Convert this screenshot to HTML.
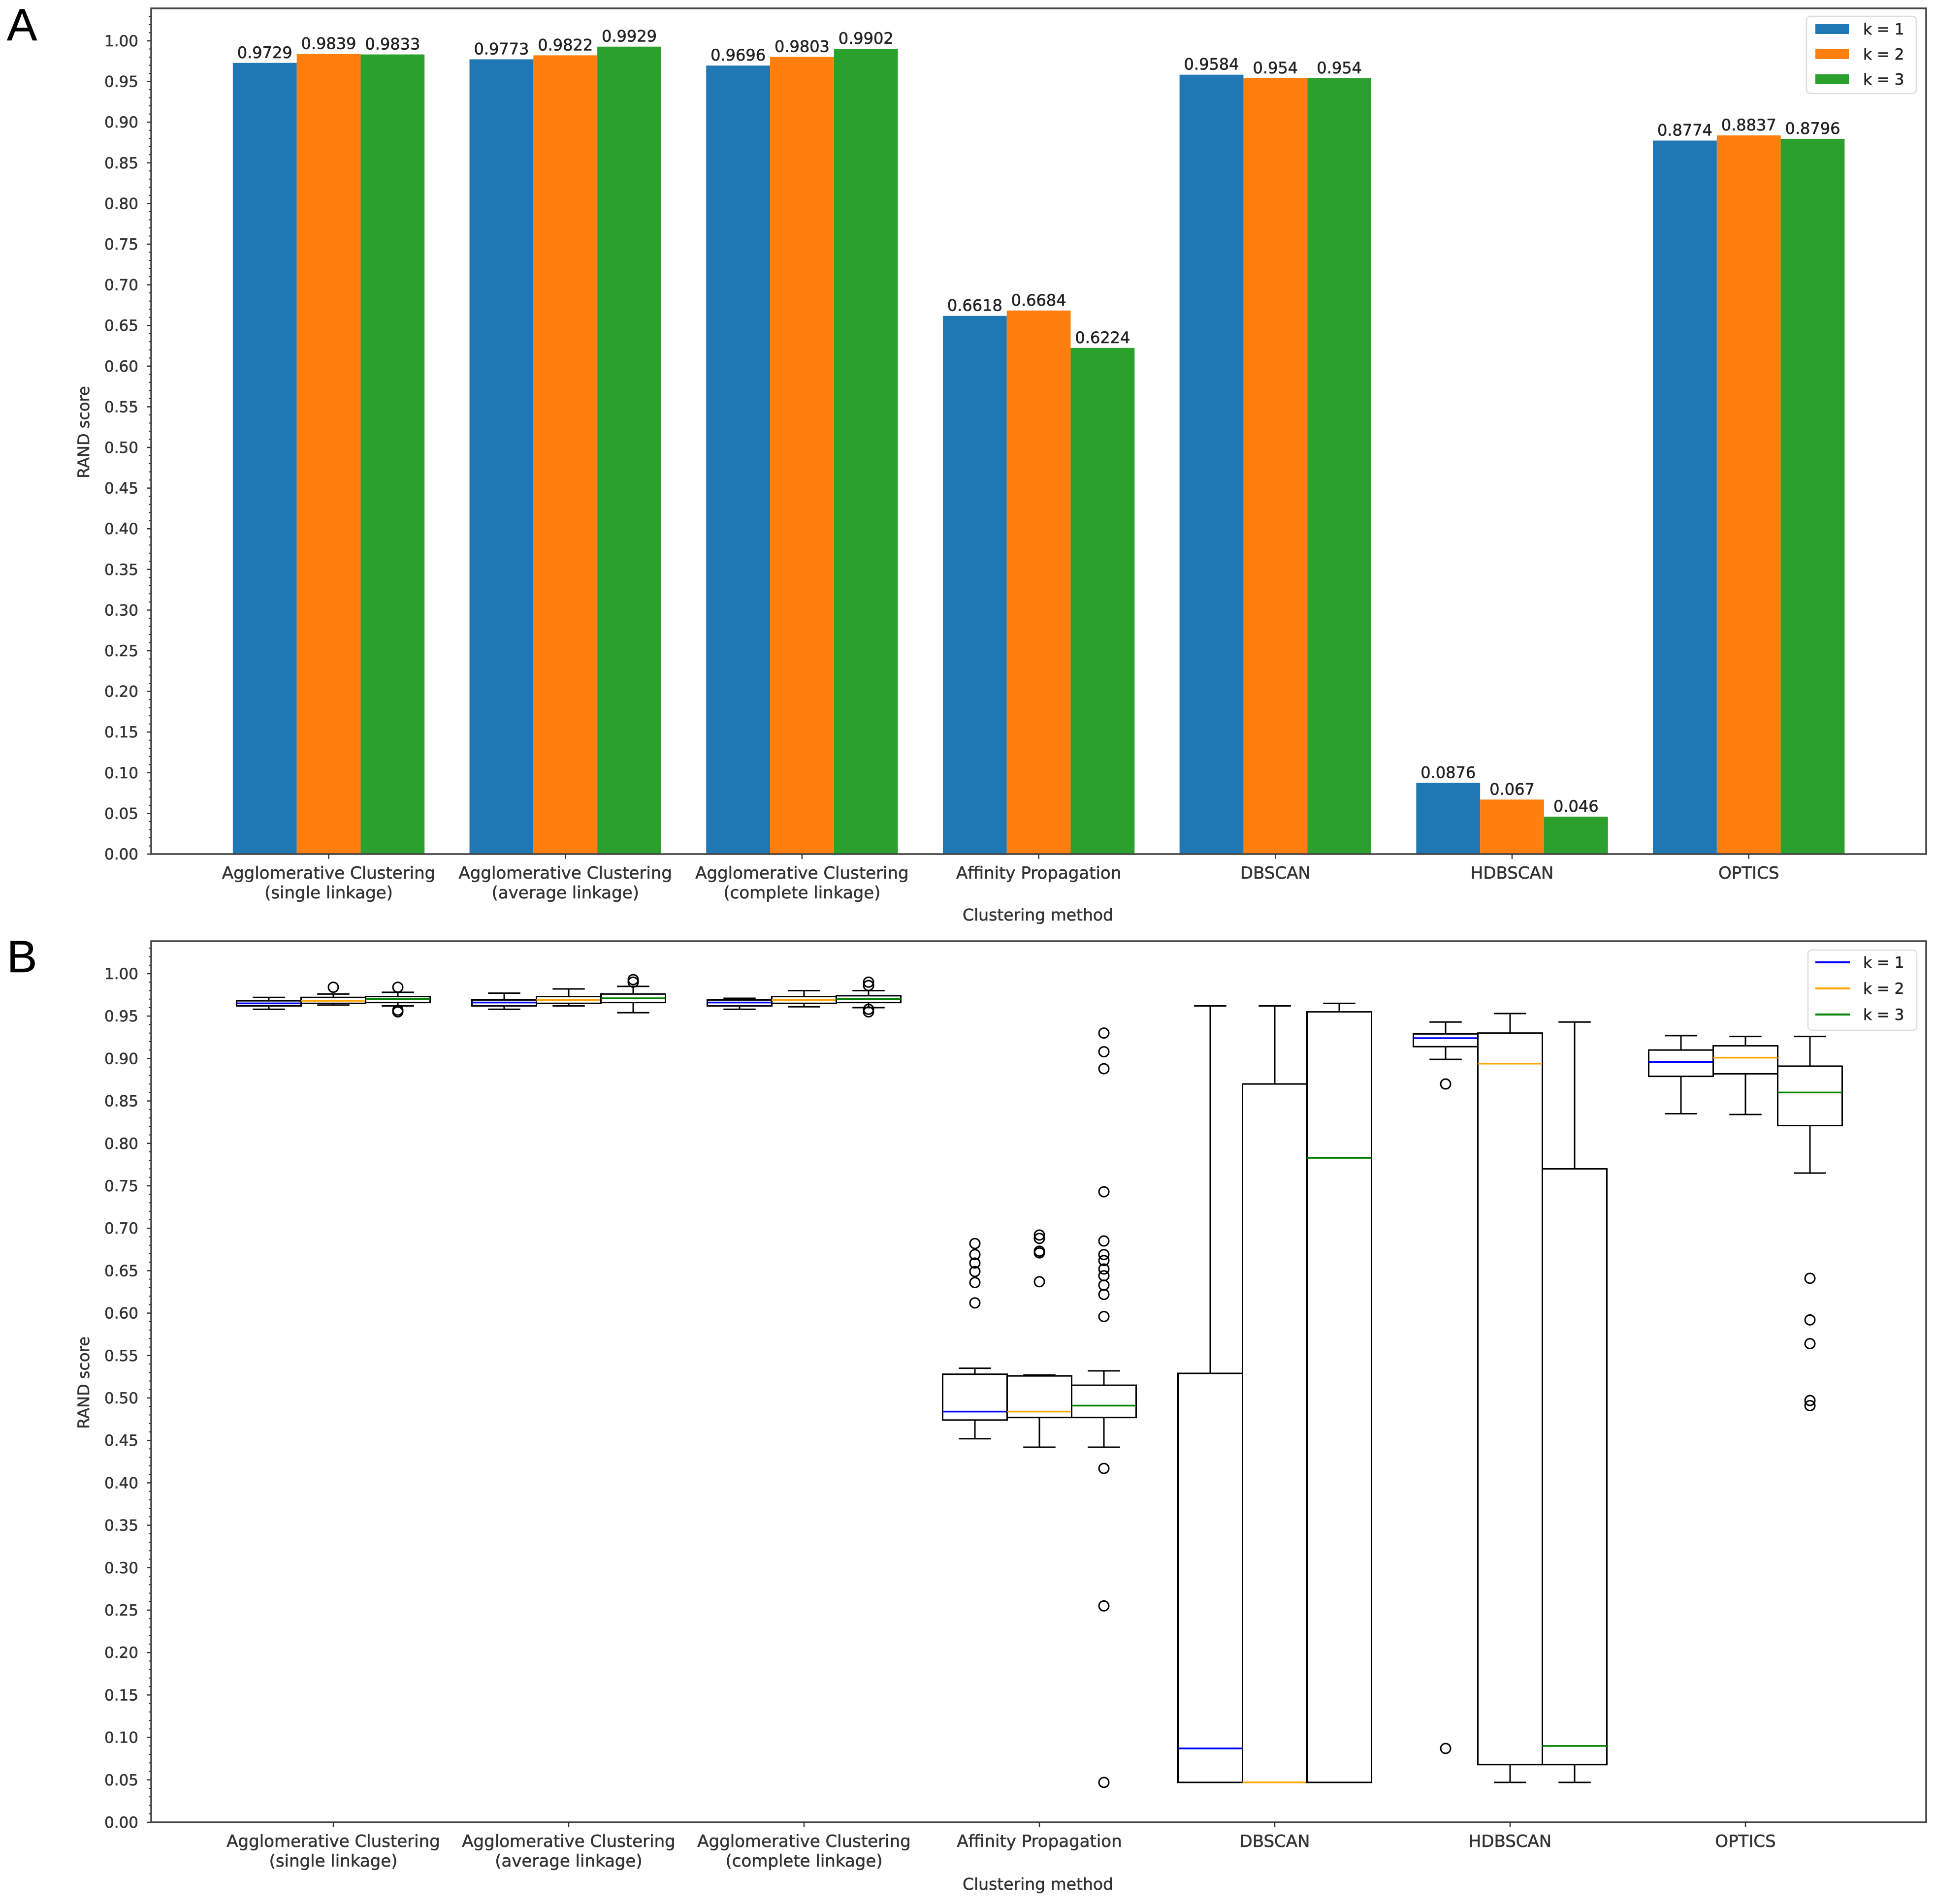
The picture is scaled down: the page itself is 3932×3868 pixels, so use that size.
<!DOCTYPE html>
<html><head><meta charset="utf-8"><style>
html,body{margin:0;padding:0;background:#fff;}
svg{display:block;font-family:"DejaVu Sans","Liberation Sans",sans-serif;}
svg text{stroke:currentColor;}
</style></head>
<body>
<svg id="fig" width="3932" height="3868" viewBox="0 0 3932 3868" xmlns="http://www.w3.org/2000/svg"></svg>
<script>
const categories = ["Agglomerative Clustering|(single linkage)","Agglomerative Clustering|(average linkage)","Agglomerative Clustering|(complete linkage)","Affinity Propagation","DBSCAN","HDBSCAN","OPTICS"];
const barK1 = [0.9729,0.9773,0.9696,0.6618,0.9584,0.0876,0.8774];
const barK2 = [0.9839,0.9822,0.9803,0.6684,0.954,0.067,0.8837];
const barK3 = [0.9833,0.9929,0.9902,0.6224,0.954,0.046,0.8796];
const barLabelsK1 = ["0.9729","0.9773","0.9696","0.6618","0.9584","0.0876","0.8774"];
const barLabelsK2 = ["0.9839","0.9822","0.9803","0.6684","0.954","0.067","0.8837"];
const barLabelsK3 = ["0.9833","0.9929","0.9902","0.6224","0.954","0.046","0.8796"];
const tickLabels = ["0.00","0.05","0.10","0.15","0.20","0.25","0.30","0.35","0.40","0.45","0.50","0.55","0.60","0.65","0.70","0.75","0.80","0.85","0.90","0.95","1.00"];
// box stats: [whiskerLo, q1, median, q3, whiskerHi]
const boxK1 = [[0.958,0.962,0.965,0.968,0.972],[0.958,0.962,0.966,0.969,0.977],[0.958,0.962,0.966,0.969,0.971],[0.452,0.474,0.484,0.528,0.535],[0.047,0.047,0.087,0.529,0.962],[0.899,0.914,0.924,0.929,0.943],[0.835,0.879,0.896,0.910,0.927]];
const boxK2 = [[0.963,0.965,0.968,0.972,0.976],[0.962,0.965,0.969,0.973,0.982],[0.961,0.965,0.969,0.973,0.980],[0.442,0.477,0.484,0.526,0.527],[0.047,0.047,0.047,0.870,0.962],[0.047,0.068,0.894,0.930,0.953],[0.834,0.882,0.901,0.915,0.926]];
const boxK3 = [[0.962,0.966,0.970,0.973,0.978],[0.954,0.966,0.971,0.976,0.985],[0.960,0.966,0.970,0.974,0.980],[0.442,0.477,0.491,0.515,0.532],[0.047,0.047,0.783,0.955,0.965],[0.047,0.068,0.090,0.770,0.943],[0.765,0.821,0.860,0.891,0.926]];
const outK1 = [[],[],[],[0.682,0.669,0.659,0.649,0.636,0.612],[],[0.870,0.087],[]];
const outK2 = [[0.984],[],[],[0.692,0.688,0.673,0.671,0.637],[],[],[]];
const outK3 = [[0.955,0.957,0.984],[0.990,0.993],[0.955,0.958,0.986,0.990],[0.930,0.908,0.888,0.743,0.685,0.669,0.662,0.652,0.644,0.633,0.622,0.596,0.417,0.255,0.047],[],[],[0.641,0.592,0.564,0.497,0.491]];

const NS="http://www.w3.org/2000/svg";
const svg=document.getElementById('fig');
function el(tag,attrs,parent,text){const e=document.createElementNS(NS,tag);for(const k in attrs)e.setAttribute(k,attrs[k]);if(text!==undefined){e.textContent=text;if(!attrs['stroke-width'])e.setAttribute('stroke-width','0.6');}(parent||svg).appendChild(e);return e;}

const L=307,R=3912;
const yA=v=>1735-v*1652;
const yB=v=>3702-v*1724;
const xA=i=>307+(i+0.75)*480.7;
const xB=i=>677+i*478;
const barColors=["#1f77b4","#ff7f0e","#2ca02c"];
const medColors=["#0000ff","#ffa500","#008000"];

function axes(name,top,bottom,yf,xf,titleY,labelY){
  const g=el('g',{});
  
  
  for(let m=0;m<=103;m++){
    const v=m/100;const y=yf(v);
    if(y<top)continue;
    const major=(m%5===0);
    el('line',{x1:L,x2:L-(major?9:5),y1:y,y2:y,stroke:'#333','stroke-width':major?2.5:2},g);
  }
  tickLabels.forEach((t,i)=>{
    const tx=el('text',{x:281,y:yf(i*0.05)+11,'text-anchor':'end','font-size':31,fill:'#333',color:'#333'},g,t);
    
    
  });
  categories.forEach((c,i)=>{
    const x=xf(i);
    el('line',{x1:x,x2:x,y1:bottom,y2:bottom+10,stroke:'#333','stroke-width':2.5},g);
    const parts=c.split('|');
    parts.forEach((p,j)=>{
      const tx=el('text',{x:x,y:bottom+50+j*40,'text-anchor':'middle','font-size':34,fill:'#333',color:'#333'},g,p);
      
      
    });
  });
  const yt=el('text',{x:0,y:0,'text-anchor':'middle','font-size':32,fill:'#333',color:'#333',transform:`translate(181,${titleY}) rotate(-90)`},g,'RAND score');
  
  
  const xt=el('text',{x:2108,y:labelY,'text-anchor':'middle','font-size':33,fill:'#333',color:'#333'},g,'Clustering method');
  
  
}

/* Panel A */
const pa=el('text',{x:14,y:82,'font-size':92,fill:'#000','font-family':'Liberation Sans, sans-serif','stroke-width':0},svg,'A');


const series=[barK1,barK2,barK3];
const seriesLabels=[barLabelsK1,barLabelsK2,barLabelsK3];
const bw=0.27*480.7;
series.forEach((s,k)=>{
  s.forEach((v,i)=>{
    const cx=xA(i)+(k-1)*bw;
    const r=el('rect',{x:cx-bw/2,y:yA(v),width:bw,height:yA(0)-yA(v),fill:barColors[k]});
    
    
    const t=el('text',{x:cx,y:yA(v)-10,'text-anchor':'middle','font-size':32,fill:'#222',color:'#222'},svg,seriesLabels[k][i]);
    
    
  });
});
const fa=el('rect',{x:L,y:17,width:R-L,height:1735-17,fill:'none',stroke:'#444','stroke-width':3.5});


axes('panel-a',17,1735,yA,xA,878,1870);

/* legend A */
const lgA=el('g',{});


el('rect',{x:3669,y:33,width:223,height:157,rx:8,fill:'#fff',stroke:'#ddd','stroke-width':2.5},lgA);
["k = 1","k = 2","k = 3"].forEach((t,k)=>{
  const yy=59+k*51;
  const e=el('g',{},lgA);
  
  
  el('rect',{x:3687,y:yy-10,width:68,height:20,fill:barColors[k]},e);
  el('text',{x:3784,y:yy+11,'font-size':31,fill:'#222',color:'#222'},e,t);
});

/* Panel B */
const pb=el('text',{x:14,y:1975,'font-size':92,fill:'#000','font-family':'Liberation Sans, sans-serif','stroke-width':0},svg,'B');


const boxes=[boxK1,boxK2,boxK3];
const outs=[outK1,outK2,outK3];
const boxW=131;
boxes.forEach((b,k)=>{
  b.forEach((st,i)=>{
    const cx=xB(i)+(k-1)*boxW;
    const g=el('g',{});
    
    
    const [wl,q1,md,q3,wh]=st;
    el('line',{x1:cx,x2:cx,y1:yB(q3),y2:yB(wh),stroke:'#000','stroke-width':3},g);
    el('line',{x1:cx,x2:cx,y1:yB(q1),y2:yB(wl),stroke:'#000','stroke-width':3},g);
    el('line',{x1:cx-boxW/4,x2:cx+boxW/4,y1:yB(wh),y2:yB(wh),stroke:'#000','stroke-width':3},g);
    el('line',{x1:cx-boxW/4,x2:cx+boxW/4,y1:yB(wl),y2:yB(wl),stroke:'#000','stroke-width':3},g);
    el('rect',{x:cx-boxW/2,y:yB(q3),width:boxW,height:Math.max(yB(q1)-yB(q3),1),fill:'none',stroke:'#000','stroke-width':3},g);
    el('line',{x1:cx-boxW/2,x2:cx+boxW/2,y1:yB(md),y2:yB(md),stroke:medColors[k],'stroke-width':3.5},g);
    outs[k][i].forEach(o=>{
      const c=el('circle',{cx:cx,cy:yB(o),r:10,fill:'none',stroke:'#000','stroke-width':3},g);
      
      
    });
  });
});
const fb=el('rect',{x:L,y:1912,width:R-L,height:3702-1912,fill:'none',stroke:'#444','stroke-width':3.5});


axes('panel-b',1912,3702,yB,xB,2809,3839);

/* legend B */
const lgB=el('g',{});


el('rect',{x:3672,y:1930,width:221,height:163,rx:8,fill:'#fff',stroke:'#ddd','stroke-width':2.5},lgB);
["k = 1","k = 2","k = 3"].forEach((t,k)=>{
  const yy=1955+k*53;
  const e=el('g',{},lgB);
  
  
  el('line',{x1:3687,x2:3757,y1:yy,y2:yy,stroke:medColors[k],'stroke-width':4},e);
  el('text',{x:3784,y:yy+11,'font-size':31,fill:'#222',color:'#222'},e,t);
});
</script>
</body></html>
